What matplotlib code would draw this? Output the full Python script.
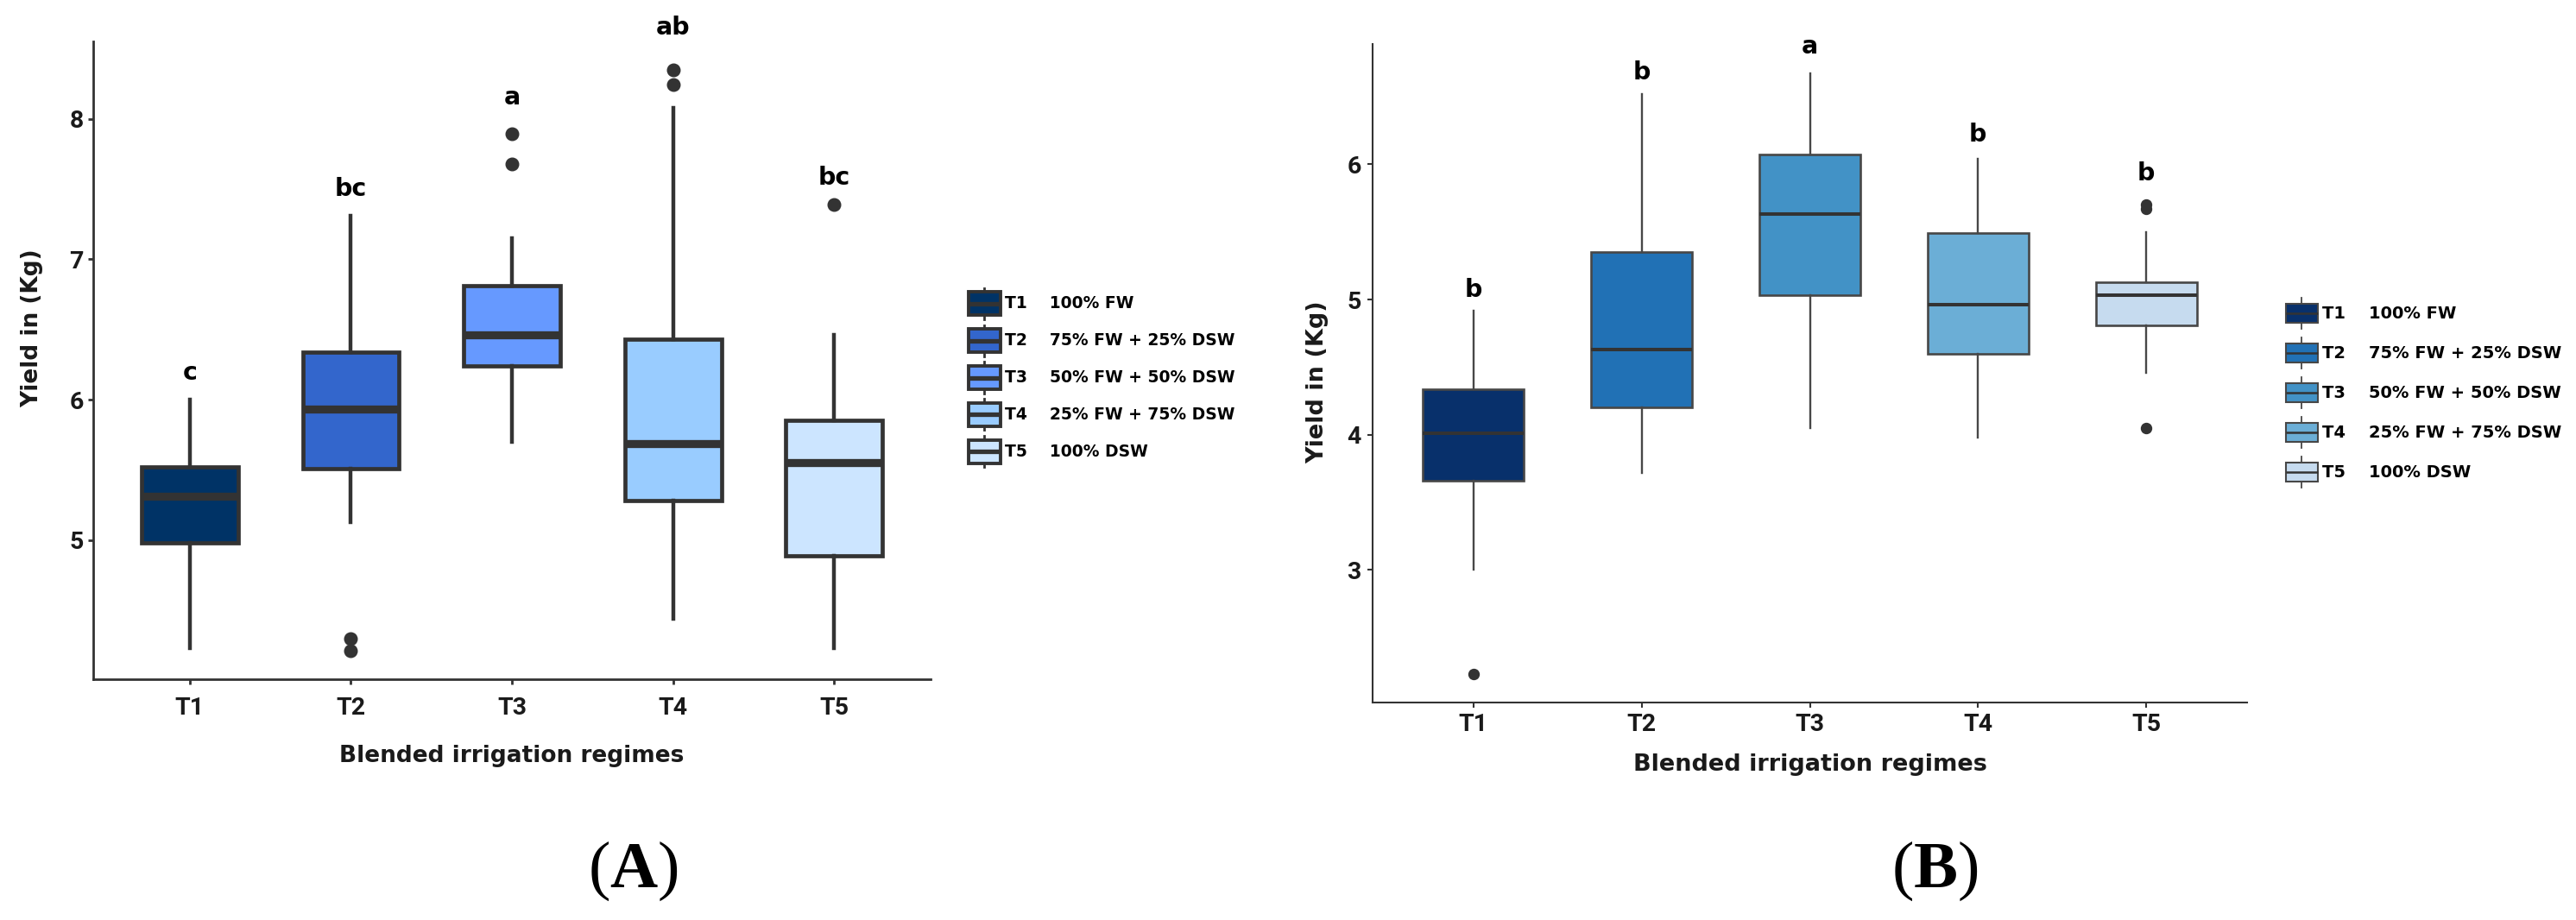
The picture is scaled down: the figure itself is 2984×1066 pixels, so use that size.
import matplotlib
matplotlib.use('Agg')
import matplotlib.pyplot as plt
from matplotlib.legend_handler import HandlerBase
from matplotlib.lines import Line2D
from matplotlib.patches import Patch, Rectangle

# ---------------------------------------------------------------------------
# datos
# ---------------------------------------------------------------------------
treatments = ['T1', 'T2', 'T3', 'T4', 'T5']
regimes = ['100% FW', '75% FW + 25% DSW', '50% FW + 50% DSW',
           '25% FW + 75% DSW', '100% DSW']

# panel A
a_whislo = [4.23, 5.13, 5.70, 4.44, 4.23]
a_q1 = [4.98, 5.51, 6.24, 5.28, 4.89]
a_med = [5.31, 5.93, 6.46, 5.69, 5.55]
a_q3 = [5.52, 6.34, 6.81, 6.43, 5.85]
a_whishi = [6.00, 7.31, 7.15, 8.08, 6.46]
a_fliers = [[], [4.30, 4.21], [7.89, 7.68], [8.35, 8.24], [7.39]]
a_letters = ['c', 'bc', 'a', 'ab', 'bc']
a_letter_y = [6.14, 7.45, 8.10, 8.60, 7.53]
a_colors = ['#003366', '#3366CC', '#6699FF', '#99CCFF', '#CCE5FF']

# panel B
b_whislo = [3.00, 3.72, 4.05, 3.98, 4.46]
b_q1 = [3.66, 4.20, 5.03, 4.60, 4.81]
b_med = [4.01, 4.63, 5.63, 4.96, 5.03]
b_q3 = [4.34, 5.35, 6.07, 5.49, 5.13]
b_whishi = [4.92, 6.52, 6.67, 6.04, 5.50]
b_fliers = [[2.23], [], [], [], [5.70, 5.67, 4.05]]
b_letters = ['b', 'b', 'a', 'b', 'b']
b_letter_y = [5.02, 6.63, 6.82, 6.17, 5.88]
b_colors = ['#08306B', '#2171B5', '#4292C6', '#6BAED6', '#C6DBEF']

plt.rcParams['font.family'] = ['DejaVu Sans']
plt.rcParams['mathtext.fontset'] = 'custom'
plt.rcParams['mathtext.rm'] = 'Liberation Serif'
plt.rcParams['mathtext.bf'] = 'Liberation Serif:bold'

INK = '#1a1a1a'
GRIS = '#333333'


class BoxKey(HandlerBase):
    """Glifo de leyenda tipo ggplot: caja + mediana + bigotes."""

    def __init__(self, edge, lw_box, lw_med, lw_wh, box_frac):
        super().__init__()
        self.edge = edge
        self.lw_box = lw_box
        self.lw_med = lw_med
        self.lw_wh = lw_wh
        self.box_frac = box_frac

    def create_artists(self, legend, orig_handle, xdescent, ydescent,
                       width, height, fontsize, trans):
        x0, y0 = -xdescent, -ydescent
        bh = height * self.box_frac
        yb = y0 + (height - bh) / 2
        xm = x0 + width / 2
        w1 = Line2D([xm, xm], [y0, yb], color=self.edge, lw=self.lw_wh, transform=trans)
        w2 = Line2D([xm, xm], [yb + bh, y0 + height], color=self.edge, lw=self.lw_wh,
                    transform=trans)
        rect = Rectangle((x0, yb), width, bh, facecolor=orig_handle.get_facecolor(),
                         edgecolor=self.edge, lw=self.lw_box, transform=trans)
        med = Line2D([x0, x0 + width], [y0 + height / 2] * 2, color=GRIS,
                     lw=self.lw_med, solid_capstyle='butt', transform=trans)
        return [w1, w2, rect, med]


def draw_panel(ax, lo, q1, med, q3, hi, fliers, letters, letter_y, colors,
               ylim, yticks, st):
    stats = [dict(whislo=l, q1=a, med=m, q3=b, whishi=h, fliers=f)
             for l, a, m, b, h, f in zip(lo, q1, med, q3, hi, fliers)]
    pos = range(1, len(stats) + 1)
    bp = ax.bxp(stats, positions=pos, widths=0.6, patch_artist=True,
                showcaps=False,
                boxprops=dict(edgecolor=st['edge'], linewidth=st['box_lw']),
                medianprops=dict(color=GRIS, linewidth=st['med_lw'],
                                 solid_capstyle='butt'),
                whiskerprops=dict(color=st['edge'], linewidth=st['wh_lw']),
                flierprops=dict(marker='o', markerfacecolor=GRIS,
                                markeredgecolor=GRIS, markersize=st['ms']))
    for box, c in zip(bp['boxes'], colors):
        box.set_facecolor(c)

    for x, txt, y in zip(pos, letters, letter_y):
        ax.text(x, y, txt, ha='center', va='baseline', fontsize=20.5,
                fontweight='bold', color='black', clip_on=False)

    ax.set_xlim(0.4, 5.6)
    ax.set_ylim(*ylim)
    ax.set_xticks(list(pos))
    ax.set_xticklabels(treatments)
    ax.set_yticks(yticks)
    for sp in ('top', 'right'):
        ax.spines[sp].set_visible(False)
    for sp in ('left', 'bottom'):
        ax.spines[sp].set_color(GRIS)
        ax.spines[sp].set_linewidth(st['spine_lw'])
    ax.tick_params(axis='both', length=4.5, width=st['spine_lw'], color=GRIS,
                   labelcolor=INK, labelsize=20.5)
    ax.tick_params(axis='x', pad=st['xpad'])
    ax.tick_params(axis='y', pad=st['ypad'])
    for lab in ax.get_xticklabels() + ax.get_yticklabels():
        lab.set_fontfamily('Roboto')
        lab.set_fontweight('bold')

    ax.set_xlabel('Blended irrigation regimes', fontsize=st['lab_fs'],
                  fontweight='bold', color=INK, va='center')
    ax.set_ylabel('Yield in (Kg)', fontsize=st['lab_fs'], fontweight='bold',
                  color=INK, va='center', ha='center')
    ax.xaxis.set_label_coords(0.5, st['xlab_y'])
    ax.yaxis.set_label_coords(st['ylab_x'], st['ylab_y'])


fig = plt.figure(figsize=(29.84, 10.66), dpi=100)
fig.patch.set_facecolor('white')

W, H = 2984, 1066
axA = fig.add_axes([108 / W, 1 - 787 / H, 970 / W, 739 / H])
axB = fig.add_axes([1590 / W, 1 - 814 / H, 1013 / W, 763 / H])

style_a = dict(edge=GRIS, box_lw=3.4, med_lw=6.7, wh_lw=3.2, ms=10.5,
               spine_lw=2.0, xpad=10, ypad=3.5, lab_fs=19,
               xlab_y=-0.120, ylab_x=-0.073, ylab_y=0.55)
style_b = dict(edge='#474747', box_lw=1.9, med_lw=2.9, wh_lw=1.7, ms=8.6,
               spine_lw=1.5, xpad=4, ypad=5, lab_fs=19.5,
               xlab_y=-0.094, ylab_x=-0.063, ylab_y=0.486)

draw_panel(axA, a_whislo, a_q1, a_med, a_q3, a_whishi, a_fliers, a_letters,
           a_letter_y, a_colors, (4.01, 8.55), [5, 6, 7, 8], style_a)
draw_panel(axB, b_whislo, b_q1, b_med, b_q3, b_whishi, b_fliers, b_letters,
           b_letter_y, b_colors, (2.02, 6.89), [3, 4, 5, 6], style_b)

# leyendas
labels = [f'{t}    {r}' for t, r in zip(treatments, regimes)]
fig.legend([Patch(facecolor=c) for c in a_colors], labels,
           loc='center left', bbox_to_anchor=(1122 / W, 1 - 437.5 / H),
           frameon=False, borderpad=0, borderaxespad=0,
           handlelength=1.95, handleheight=2.58, labelspacing=0.37,
           handletextpad=0.27,
           prop=dict(family='DejaVu Sans', weight='bold', size=13.5),
           handler_map={Patch: BoxKey(GRIS, 2.8, 3.8, 2.0, 0.75)})
fig.legend([Patch(facecolor=c) for c in b_colors], labels,
           loc='center left', bbox_to_anchor=(2648 / W, 1 - 455 / H),
           frameon=False, borderpad=0, borderaxespad=0,
           handlelength=1.9, handleheight=2.47, labelspacing=0.51,
           handletextpad=0.27,
           prop=dict(family='DejaVu Sans', weight='bold', size=14),
           handler_map={Patch: BoxKey('#474747', 1.5, 1.8, 1.3, 0.6)})

# etiquetas de panel
for xc, letra in ((733, 'A'), (2241, 'B')):
    fig.text(xc / W, 1 - 1028 / H, '($\\mathbf{' + letra + '}$)',
             ha='center', va='baseline', fontsize=55,
             fontfamily='Liberation Serif', color='black')

fig.savefig('out.png', dpi=100, facecolor='white')
